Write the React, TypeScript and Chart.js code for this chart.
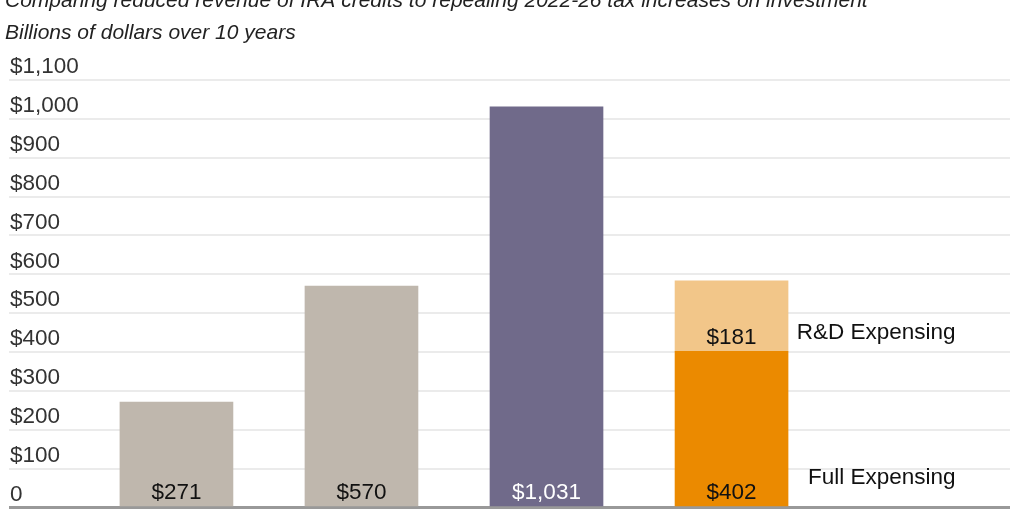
import React, { useEffect, useRef } from "react";
import { Chart, registerables } from "chart.js";

Chart.register(...registerables);

const titleText =
  "Comparing reduced revenue of IRA credits to repealing 2022-26 tax increases on investment";
const subtitleText = "Billions of dollars over 10 years";

const categories = [
  "IRA credits (JCT)",
  "IRA credits (CBO)",
  "IRA credits (higher estimate)",
  "Repeal 2022-26 tax increases",
];
const baseValues = [271, 570, 1031, 402];
const rdValues = [null, null, null, 181];
const baseColors = ["#bfb7ad", "#bfb7ad", "#706a8a", "#eb8a00"];
const rdColor = "#f2c689";
const labelColors = ["#111111", "#111111", "#ffffff", "#111111"];
const seriesNames = ["Full Expensing", "R&D Expensing"];
const yTicks = [0, 100, 200, 300, 400, 500, 600, 700, 800, 900, 1000, 1100];

const FONT = "'Liberation Sans', Arial, sans-serif";

const fmt = (v: number) => (v === 0 ? "0" : "$" + v.toLocaleString("en-US"));

const overlayPlugin = {
  id: "overlay",
  afterDatasetsDraw(chart: any) {
    const ctx = chart.ctx;
    ctx.save();
    ctx.font = `22.5px ${FONT}`;
    ctx.textAlign = "center";
    ctx.textBaseline = "alphabetic";
    chart.data.datasets.forEach((ds: any, di: number) => {
      const meta = chart.getDatasetMeta(di);
      meta.data.forEach((el: any, i: number) => {
        const raw = ds.data[i];
        if (!raw || raw.y == null) return;
        ctx.fillStyle = di === 0 ? labelColors[i] : "#111111";
        ctx.fillText(fmt(raw.y), el.x, el.base - 7);
      });
    });
    const xs = chart.scales.x;
    const ys = chart.scales.y;
    const rightX = xs.getPixelForValue(categories.length) + 39;
    ctx.textAlign = "right";
    ctx.fillStyle = "#111111";
    const baseTop = ys.getPixelForValue(baseValues[3]);
    ctx.fillText(seriesNames[1], rightX, baseTop - 12);
    ctx.fillText(seriesNames[0], rightX, ys.getPixelForValue(0) - 24);
    ctx.textAlign = "left";
    ctx.fillStyle = "#222222";
    ctx.font = `italic 21px ${FONT}`;
    ctx.fillText(titleText, 5, 7);
    ctx.fillText(subtitleText, 5, 39);
    ctx.restore();
  },
};

export default function App() {
  const ref = useRef<HTMLCanvasElement>(null);
  useEffect(() => {
    if (!ref.current) return;
    const chart = new Chart(ref.current, {
      type: "bar",
      data: {
        datasets: [
          {
            label: seriesNames[0],
            data: baseValues.map((v, i) => ({ x: i, y: v })),
            backgroundColor: baseColors,
            barThickness: 113,
          },
          {
            label: seriesNames[1],
            data: rdValues.map((v, i) => ({ x: i, y: v })),
            backgroundColor: rdColor,
            barThickness: 113,
          },
        ] as any,
      },
      plugins: [overlayPlugin],
      options: {
        animation: false,
        responsive: true,
        maintainAspectRatio: false,
        layout: { padding: { top: 80, left: 7, right: 14, bottom: 4 } },
        plugins: {
          legend: { display: false },
          tooltip: { enabled: false },
          title: { display: false },
        },
        scales: {
          x: {
            type: "linear",
            display: false,
            stacked: true,
            offset: false,
            min: -0.905,
            max: 4.505,
            grid: { offset: false },
          },
          y: {
            stacked: true,
            min: 0,
            max: 1100,
            afterBuildTicks: (scale: any) => {
              scale.ticks = yTicks.map((v) => ({ value: v }));
            },
            border: { display: false },
            grid: {
              drawTicks: false,
              color: (c: any) => (c.tick && c.tick.value === 0 ? "#999999" : "#ebebeb"),
              lineWidth: (c: any) => (c.tick && c.tick.value === 0 ? 3 : 2),
            },
            ticks: {
              mirror: true,
              padding: 1,
              labelOffset: -13,
              color: "#333333",
              font: { family: FONT, size: 22.5 },
              callback: (v: any) => fmt(Number(v)),
            },
          },
        },
      },
    });
    return () => chart.destroy();
  }, []);
  return (
    <div style={{ position: "absolute", left: 0, top: 0, width: 1024, height: 512, overflow: "hidden" }}>
      <div style={{ position: "relative", width: 1024, height: 522 }}>
        <canvas ref={ref} />
      </div>
    </div>
  );
}
